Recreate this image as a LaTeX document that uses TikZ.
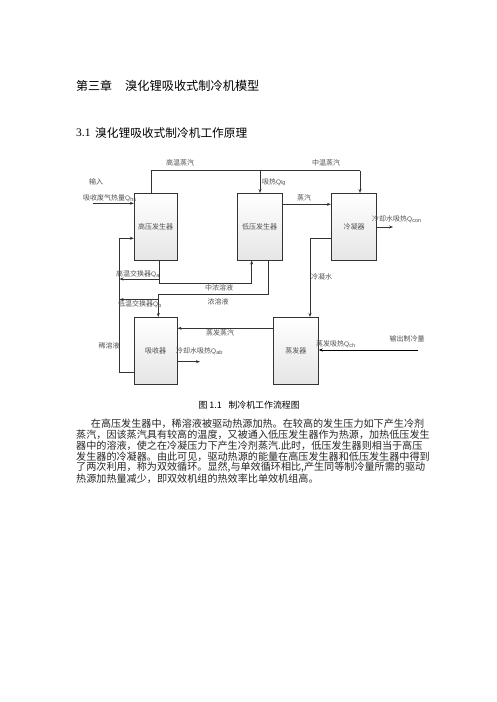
\documentclass[tikz,border=0pt]{standalone}
\usepackage{fontspec}
\setmainfont{Noto Sans CJK SC}
\newfontfamily\latserif{Liberation Serif}
\newfontfamily\latsans{Liberation Sans}
\usetikzlibrary{arrows.meta}
\newcommand\qsub[1]{{\latsans\fontsize{6.5}{7}\selectfont Q\raisebox{-0.2ex}{\fontsize{5.5}{6}\selectfont #1}}}
\definecolor{lnc}{HTML}{333333}
\definecolor{txc}{HTML}{505050}
\tikzset{
  unitbox/.style={draw=lnc, line width=0.8pt, inner sep=0pt, minimum height=66.7pt,
    top color=white, bottom color=black!10, text=txc, font=\fontsize{7}{8}\selectfont},
  lbl/.style={inner sep=0pt, text=txc, font=\fontsize{7}{8}\selectfont},
  conn/.style={draw=lnc, line width=0.7pt},
  arr/.style={conn, -{Stealth[length=4pt,width=3pt]}},
  para/.style={inner sep=0pt, anchor=west, text=black!85, font=\fontsize{10.1}{11}\selectfont},
}
\begin{document}
\begin{tikzpicture}[x=1pt,y=-1pt]
\useasboundingbox[fill=white] (0,0) rectangle (496,702);

% headings
\node[inner sep=0pt, anchor=west, font=\fontsize{12}{13}\selectfont] (ch) at (76,86) {第三章};
\node[inner sep=0pt, anchor=west, font=\fontsize{12.2}{13}\selectfont] (cht) at (125,86) {溴化锂吸收式制冷机模型};
\node[inner sep=0pt, anchor=west, font=\latserif\fontsize{11.5}{13}\selectfont] (secn) at (76,132.7) {3.1};
\node[inner sep=0pt, anchor=west, font=\fontsize{11.7}{13}\selectfont] (sect) at (95,132.7) {溴化锂吸收式制冷机工作原理};

% units
\node[unitbox, minimum width=43pt] (hpg) at (155.7,226.7) {高压发生器};
\node[unitbox, minimum width=45pt] (lpg) at (259.7,226.7) {低压发生器};
\node[unitbox, minimum width=45.4pt] (cond) at (354,226.7) {冷凝器};
\node[unitbox, minimum width=43pt] (abs) at (155.7,350.7) {吸收器};
\node[unitbox, minimum width=45pt] (evap) at (295.8,350.7) {蒸发器};

% bend coordinates
\coordinate (hv) at (151,170.7);
\coordinate (lv) at (260,170.7);
\coordinate (cv) at (360,170.7);
\coordinate (sv) at (300,204.3);
\coordinate (qc) at (393,227);
\coordinate (in) at (92.7,203.3);
\coordinate (dl1) at (119,372.7);
\coordinate (dl2) at (119,238.3);
\coordinate (m1) at (159.3,283.3);
\coordinate (m2) at (251.7,283.3);
\coordinate (ha) at (119.5,279);
\coordinate (c1) at (268.3,294.3);
\coordinate (c2) at (158.3,294.3);
\coordinate (la) at (119.5,299.5);
\coordinate (w1) at (310,238.3);
\coordinate (ev) at (220,328.3);
\coordinate (qa) at (200,361.7);
\coordinate (qo) at (418.3,350);

% connectors
\draw[conn] (hv |- hpg.north) -- (hv) -- (cv);
\draw[arr] (lv) -- (lv |- lpg.north);
\draw[arr] (cv) -- (cv |- cond.north);
\draw[arr] (sv -| lpg.east) -- (sv -| cond.west);
\draw[arr] (qc -| cond.east) -- (qc);
\draw[arr] (in) -- (in -| hpg.west);
\draw[arr] (dl1 -| abs.west) -- (dl1) -- (dl2) -- (dl2 -| hpg.west);
\draw[arr] (m1 |- hpg.south) -- (m1) -- (m2) -- (m2 |- lpg.south);
\draw[arr] (ha -| m1) -- (ha);
\draw[arr] (c1 |- lpg.south) -- (c1) -- (c2) -- (c2 |- abs.north);
\draw[arr] (la -| c2) -- (la);
\draw[arr] (w1 -| cond.west) -- (w1) -- (w1 |- evap.north);
\draw[arr] (ev -| evap.west) -- (ev -| abs.east);
\draw[arr] (qa -| abs.east) -- (qa);
\draw[draw=black, line width=1pt, -{Stealth[length=4pt,width=3pt]}] (qo) -- (qo -| evap.east);

% labels
\node[lbl] (l1) at (180,163) {高温蒸汽};
\node[lbl] (l2) at (326,163) {中温蒸汽};
\node[lbl] (l3) at (96,182) {输入};
\node[lbl, anchor=west] (l4) at (83,198) {吸收废气热量\qsub{hs}};
\node[lbl, anchor=west] (l5) at (262,182) {吸热\qsub{lg}};
\node[lbl] (l6) at (304,198) {蒸汽};
\node[lbl, anchor=west] (l7) at (372,219) {冷却水吸热\qsub{con}};
\node[lbl, anchor=west] (l8) at (116,274) {高温交换器\qsub{a}};
\node[lbl] (l9) at (219,288) {中浓溶液};
\node[lbl] (l10) at (218,302) {浓溶液};
\node[lbl, anchor=west] (l11) at (118,304.5) {低温交换器\qsub{b}};
\node[lbl, anchor=west] (l12) at (311,277) {冷凝水};
\node[lbl] (l13) at (220,332.5) {蒸发蒸汽};
\node[lbl] (l14) at (109,346) {稀溶液};
\node[lbl, anchor=west] (l15) at (176,351) {冷却水吸热\qsub{ab}};
\node[lbl, anchor=west] (l16) at (316,344) {蒸发吸热\qsub{ch}};
\node[lbl] (l17) at (407,339) {输出制冷量};

% caption
\node[inner sep=0pt, anchor=west, font=\fontsize{8.9}{10}\selectfont] (capn) at (198.3,405) {图 1.1};
\node[inner sep=0pt, anchor=west, font=\fontsize{8.9}{10}\selectfont] (capt) at (228.3,405) {制冷机工作流程图};

% paragraph
\node[para] (p1) at (90.7,423.3) {在高压发生器中，稀溶液被驱动热源加热。在较高的发生压力如下产生冷剂};
\node[para] (p2) at (76,434.3) {蒸汽，因该蒸汽具有较高的温度，又被通入低压发生器作为热源，加热低压发生};
\node[para] (p3) at (76,445.3) {器中的溶液，使之在冷凝压力下产生冷剂蒸汽.此时，低压发生器则相当于高压};
\node[para] (p4) at (76,456.3) {发生器的冷凝器。由此可见，驱动热源的能量在高压发生器和低压发生器中得到};
\node[para] (p5) at (76,467.3) {了两次利用，称为双效循环。显然,与单效循环相比,产生同等制冷量所需的驱动};
\node[para] (p6) at (76,478.3) {热源加热量减少，即双效机组的热效率比单效机组高。};
\end{tikzpicture}
\end{document}
